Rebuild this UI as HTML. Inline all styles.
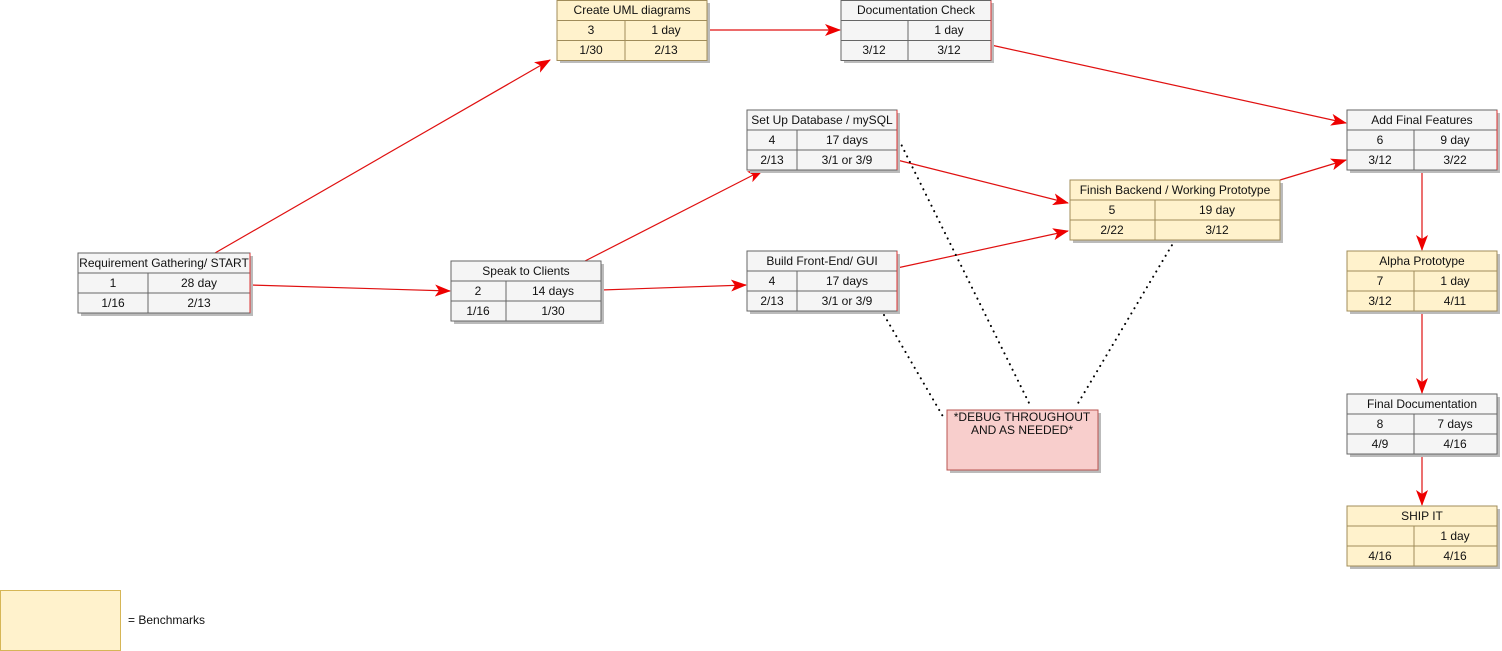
<!DOCTYPE html>
<html><head><meta charset="utf-8"><style>
html,body{margin:0;padding:0;background:#fff;}
svg{display:block;font-family:"Liberation Sans",Arial,sans-serif;font-size:12px;}
</style></head><body>
<svg width="1502" height="651" viewBox="0 0 1502 651" xmlns="http://www.w3.org/2000/svg">
<defs>
<marker id="ar" markerWidth="16" markerHeight="12" refX="15" refY="6" orient="auto" markerUnits="userSpaceOnUse">
<path d="M0,0 L16,6 L0,12 L4,6 Z" fill="#e00"/>
</marker>
</defs>
<g stroke="#e01010" stroke-width="1.2" fill="none" marker-end="url(#ar)">
<line x1="215" y1="253" x2="550" y2="60"/>
<line x1="250" y1="285" x2="450" y2="291"/>
<line x1="585" y1="261" x2="763" y2="170"/>
<line x1="601" y1="290" x2="746" y2="285"/>
<line x1="707" y1="30" x2="840" y2="30"/>
<line x1="991" y1="45" x2="1346" y2="123"/>
<line x1="897" y1="160" x2="1068" y2="203"/>
<line x1="897" y1="268" x2="1068" y2="231"/>
<line x1="1280" y1="180" x2="1346" y2="160"/>
<line x1="1422" y1="170" x2="1422" y2="250"/>
<line x1="1422" y1="311" x2="1422" y2="393"/>
<line x1="1422" y1="454" x2="1422" y2="505"/>
</g>
<g stroke="#000" stroke-width="2" stroke-dasharray="0.1 6" stroke-linecap="round" fill="none">
<line x1="899" y1="140" x2="1030" y2="405"/>
<line x1="1175" y1="240" x2="1077" y2="405"/>
<line x1="884" y1="315" x2="945" y2="420"/>
</g>
<g id="boxes" stroke="#666" stroke-width="1">
<g fill="#bbb" stroke="none">
<rect x="81" y="256" width="172" height="60"/>
<rect x="454" y="264" width="150" height="60"/>
<rect x="560" y="3" width="150" height="60"/>
<rect x="844" y="3" width="150" height="60"/>
<rect x="750" y="113" width="150" height="60"/>
<rect x="750" y="254" width="150" height="60"/>
<rect x="1073" y="183" width="210" height="60"/>
<rect x="1350" y="113" width="150" height="60"/>
<rect x="1350" y="254" width="150" height="60"/>
<rect x="1350" y="397" width="150" height="60"/>
<rect x="1350" y="509" width="150" height="60"/>
<rect x="950" y="413" width="151" height="60"/>
</g>
<rect x="78" y="253" width="172" height="60" fill="#f5f5f5"/>
<path d="M78,273H250M78,293H250M148,273V313" fill="none"/>
<line x1="250" y1="253" x2="250" y2="313" stroke="#d33"/>
<rect x="451" y="261" width="150" height="60" fill="#f5f5f5"/>
<path d="M451,281H601M451,301H601M506,281V321" fill="none"/>
<rect x="557" y="0.5" width="150" height="60" fill="#fff2cc" stroke="#a08c5a"/>
<path d="M557,20.5H707M557,40.5H707M625,20.5V60.5" fill="none" stroke="#a08c5a"/>
<rect x="841" y="0.5" width="150" height="60" fill="#f5f5f5"/>
<path d="M841,20.5H991M841,40.5H991M908,20.5V60.5" fill="none"/>
<line x1="991" y1="0.5" x2="991" y2="60.5" stroke="#d33"/>
<rect x="747" y="110" width="150" height="60" fill="#f5f5f5"/>
<path d="M747,130H897M747,150H897M797,130V170" fill="none"/>
<line x1="897" y1="110" x2="897" y2="170" stroke="#d33"/>
<rect x="747" y="251" width="150" height="60" fill="#f5f5f5"/>
<path d="M747,271H897M747,291H897M797,271V311" fill="none"/>
<line x1="897" y1="251" x2="897" y2="311" stroke="#d33"/>
<rect x="1070" y="180" width="210" height="60" fill="#fff2cc" stroke="#a08c5a"/>
<path d="M1070,200H1280M1070,220H1280M1155,200V240" fill="none" stroke="#a08c5a"/>
<rect x="1347" y="110" width="150" height="60" fill="#f5f5f5"/>
<path d="M1347,130H1497M1347,150H1497M1414,130V170" fill="none"/>
<line x1="1497" y1="110" x2="1497" y2="170" stroke="#d33"/>
<rect x="1347" y="251" width="150" height="60" fill="#fff2cc" stroke="#a08c5a"/>
<path d="M1347,271H1497M1347,291H1497M1414,271V311" fill="none" stroke="#a08c5a"/>
<rect x="1347" y="394" width="150" height="60" fill="#f5f5f5"/>
<path d="M1347,414H1497M1347,434H1497M1414,414V454" fill="none"/>
<rect x="1347" y="506" width="150" height="60" fill="#fff2cc" stroke="#a08c5a"/>
<path d="M1347,526H1497M1347,546H1497M1414,526V566" fill="none" stroke="#a08c5a"/>
<rect x="947" y="410" width="151" height="60" fill="#f8cecc" stroke="#b85450"/>
<rect x="0.5" y="590.5" width="120" height="60" fill="#fff2cc" stroke="#d6b656"/>
</g>
<g fill="#111" text-anchor="middle">
<text x="164" y="267">Requirement Gathering/ START</text>
<text x="113" y="287">1</text><text x="199" y="287">28 day</text>
<text x="113" y="307">1/16</text><text x="199" y="307">2/13</text>

<text x="526" y="275">Speak to Clients</text>
<text x="478" y="295">2</text><text x="553" y="295">14 days</text>
<text x="478" y="315">1/16</text><text x="553" y="315">1/30</text>

<text x="632" y="14">Create UML diagrams</text>
<text x="591" y="34">3</text><text x="666" y="34">1 day</text>
<text x="591" y="54">1/30</text><text x="666" y="54">2/13</text>

<text x="916" y="14">Documentation Check</text>
<text x="949" y="34">1 day</text>
<text x="874" y="54">3/12</text><text x="949" y="54">3/12</text>

<text x="822" y="124">Set Up Database / mySQL</text>
<text x="772" y="144">4</text><text x="847" y="144">17 days</text>
<text x="772" y="164">2/13</text><text x="847" y="164">3/1 or 3/9</text>

<text x="822" y="265">Build Front-End/ GUI</text>
<text x="772" y="285">4</text><text x="847" y="285">17 days</text>
<text x="772" y="305">2/13</text><text x="847" y="305">3/1 or 3/9</text>

<text x="1175" y="194">Finish Backend / Working Prototype</text>
<text x="1112" y="214">5</text><text x="1217" y="214">19 day</text>
<text x="1112" y="234">2/22</text><text x="1217" y="234">3/12</text>

<text x="1422" y="124">Add Final Features</text>
<text x="1380" y="144">6</text><text x="1455" y="144">9 day</text>
<text x="1380" y="164">3/12</text><text x="1455" y="164">3/22</text>

<text x="1422" y="265">Alpha Prototype</text>
<text x="1380" y="285">7</text><text x="1455" y="285">1 day</text>
<text x="1380" y="305">3/12</text><text x="1455" y="305">4/11</text>

<text x="1422" y="408">Final Documentation</text>
<text x="1380" y="428">8</text><text x="1455" y="428">7 days</text>
<text x="1380" y="448">4/9</text><text x="1455" y="448">4/16</text>

<text x="1422" y="520">SHIP IT</text>
<text x="1455" y="540">1 day</text>
<text x="1380" y="560">4/16</text><text x="1455" y="560">4/16</text>

<text x="1022" y="421">*DEBUG THROUGHOUT</text>
<text x="1022" y="434">AND AS NEEDED*</text>
</g>
<text x="128" y="624" fill="#111">= Benchmarks</text>
</svg>
</body></html>
